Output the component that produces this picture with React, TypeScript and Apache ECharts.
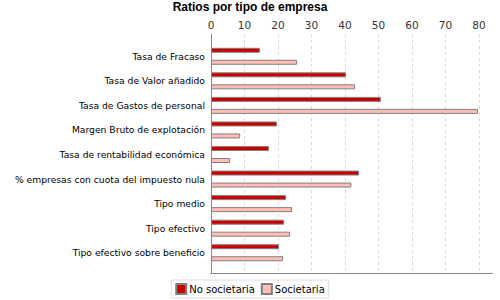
import React, { useEffect, useRef } from "react";
import * as echarts from "echarts";

const categories = [
  "Tasa de Fracaso",
  "Tasa de Valor añadido",
  "Tasa de Gastos de personal",
  "Margen Bruto de explotación",
  "Tasa de rentabilidad económica",
  "% empresas con cuota del impuesto nula",
  "Tipo medio",
  "Tipo efectivo",
  "Tipo efectivo sobre beneficio",
];
const noSocietaria = [14.6, 40.3, 50.7, 19.7, 17.3, 44.2, 22.4, 21.8, 20.3];
const societaria = [25.7, 43.0, 79.7, 8.7, 5.7, 41.9, 24.2, 23.6, 21.5];
const seriesNames = ["No societaria", "Societaria"];
const xTicks = { min: 0, max: 84, interval: 10 };

export default function App() {
  const ref = useRef<HTMLDivElement>(null);
  useEffect(() => {
    if (!ref.current) return;
    const chart = echarts.init(ref.current, undefined, { renderer: "svg" });
    const font = "DejaVu Sans";
    chart.setOption({
      animation: false,
      backgroundColor: "#ffffff",
      title: {
        text: "Ratios por tipo de empresa",
        left: "center",
        top: 1,
        padding: 0,
        textStyle: { fontFamily: "Liberation Sans", fontWeight: "bold", fontSize: 12, color: "#000" },
      },
      legend: {
        bottom: 2,
        left: "center",
        data: seriesNames,
        itemWidth: 10,
        itemHeight: 10,
        itemGap: 6,
        padding: [3, 4, 3, 4],
        borderColor: "#dddddd",
        borderWidth: 1,
        icon: "rect",
        textStyle: { fontFamily: font, fontSize: 10, color: "#000", padding: [0, 0, 0, -2] },
      },
      grid: [
        { left: 211, top: 44, width: 281.4, height: 221, containLabel: false },
        { left: 211, top: 34, width: 281.4, height: 239, containLabel: false },
      ],
      xAxis: [
        {
          gridIndex: 0,
          type: "value",
          min: xTicks.min,
          max: xTicks.max,
          interval: xTicks.interval,
          show: false,
        },
        {
          gridIndex: 1,
          type: "value",
          position: "top",
          min: xTicks.min,
          max: xTicks.max,
          interval: xTicks.interval,
          axisLine: { show: true, lineStyle: { color: "#888888" } },
          axisTick: { show: false },
          axisLabel: {
            showMaxLabel: false,
            margin: 4,
            fontFamily: font,
            fontSize: 10.5,
            color: "#333",
          },
          splitLine: {
            show: true,
            showMaxLine: false,
            showMinLine: false,
            lineStyle: { color: "#d8d8d8", type: [3, 3] },
          },
        },
      ],
      yAxis: [
        {
          gridIndex: 0,
          type: "category",
          inverse: true,
          data: categories,
          axisLine: { show: false },
          axisTick: { show: false },
          axisLabel: { margin: 6, fontFamily: font, fontSize: 9.2, color: "#000" },
        },
        {
          gridIndex: 1,
          type: "value",
          min: 0,
          max: 1,
          axisLine: { show: true, lineStyle: { color: "#888888" } },
          axisTick: { show: false },
          axisLabel: { show: false },
          splitLine: { show: false },
        },
      ],
      series: [
        {
          name: seriesNames[0],
          type: "bar",
          xAxisIndex: 0,
          yAxisIndex: 0,
          data: noSocietaria,
          barWidth: 5,
          barGap: "140%",
          itemStyle: { color: "#cc0000", borderColor: "#808080", borderWidth: 1 },
        },
        {
          name: seriesNames[1],
          type: "bar",
          xAxisIndex: 0,
          yAxisIndex: 0,
          data: societaria,
          barWidth: 5,
          barGap: "140%",
          itemStyle: { color: "#ffbdb6", borderColor: "#808080", borderWidth: 1 },
        },
      ],
    });
    return () => chart.dispose();
  }, []);
  return (
    <div
      ref={ref}
      style={{ position: "absolute", left: 0, top: 0, width: 500, height: 300 }}
    />
  );
}
